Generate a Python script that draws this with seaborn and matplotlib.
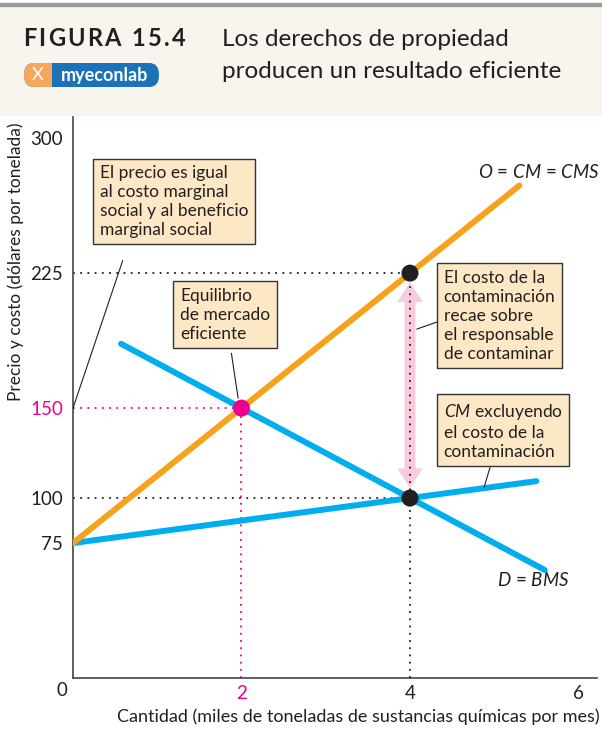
import matplotlib.pyplot as plt
import matplotlib.patches as mpatches
import numpy as np
import pandas as pd
import seaborn as sns

# Data (miles de toneladas, dolares por tonelada)
supply_q = [0, 2, 4, 5.3]
supply_p = [75, 150, 225, 273.75]
demand_q = [0.57, 2, 4, 5.6]
demand_p = [185.75, 150, 100, 60]
cm_excl_q = [0, 4, 5.5]
cm_excl_p = [75, 100, 109.4]

eq_q = 2
eq_p = 150
market_q = 4
market_cms = 225
market_cm = 100

y_ticks = [75, 100, 150, 225, 300]
x_ticks = [2, 4, 6]

ORANGE = "#f7a21b"
BLUE = "#00aeef"
PINK = "#ec008c"
ARROW_PINK = "#f8cade"
BOX = "#fde8c6"
TEXT = "#231f20"
FONT = "Lato"

sns.set_theme(style="white")
plt.rcParams["font.family"] = [FONT, "DejaVu Sans"]
plt.rcParams["mathtext.fontset"] = "custom"
plt.rcParams["mathtext.it"] = FONT + ":italic"
plt.rcParams["mathtext.rm"] = FONT
plt.rcParams["text.color"] = TEXT

fig = plt.figure(figsize=(6.02, 7.31), dpi=100)
fig.patch.set_facecolor("white")
renderer = fig.canvas.get_renderer()


def fx(px):
    return px / 602


def fy(py):
    return 1 - py / 731


# header band
fig.patches.append(mpatches.Rectangle((0, fy(115)), 1, (115 - 7) / 731,
                                      transform=fig.transFigure, color="#f7f5ee", zorder=0))
fig.patches.append(mpatches.Rectangle((0, fy(6)), 1, 3 / 731,
                                      transform=fig.transFigure, color="#9a9a9a", zorder=1))

# spaced caption "FIGURA 15.4"
x = 23
for ch in "FIGURA  15.4":
    if ch == " ":
        x += 4.5
        continue
    t = fig.text(fx(x), fy(39), ch, fontsize=17, fontweight="bold", va="center",
                 ha="left", color=TEXT)
    x += t.get_window_extent(renderer).width + 2.2

fig.text(fx(222), fy(40), "Los derechos de propiedad", fontsize=17.5,
         va="center", ha="left", color=TEXT)
fig.text(fx(222), fy(72), "producen un resultado eficiente", fontsize=17.5,
         va="center", ha="left", color=TEXT)

# myeconlab badge
h = (87 - 63) / 731
fig.patches.append(mpatches.FancyBboxPatch((fx(24), fy(87)), fx(159) - fx(24), h,
                   boxstyle="round,pad=0,rounding_size=0.016", transform=fig.transFigure,
                   fc="#1b72b9", ec="none", zorder=2))
fig.patches.append(mpatches.FancyBboxPatch((fx(24), fy(87)), fx(70) - fx(24), h,
                   boxstyle="round,pad=0,rounding_size=0.016", transform=fig.transFigure,
                   fc="#f6a75e", ec="none", zorder=3))
fig.patches.append(mpatches.Rectangle((fx(52), fy(87)), fx(75) - fx(52), h,
                   transform=fig.transFigure, fc="#1b72b9", ec="none", zorder=4))
fig.text(fx(38), fy(75), "X", color="white", fontsize=13, ha="center", va="center", zorder=5)
fig.text(fx(105), fy(75), "myeconlab", color="white", fontsize=13, fontweight="bold",
         ha="center", va="center", zorder=5)

ax = fig.add_axes([73 / 602, 1 - 678 / 731, 524 / 602, 565 / 731])
ax.set_xlim(0, 6.22)
ax.set_ylim(0, 314)

# guide lines
dots = (0, (1, 3))
ax.plot([0, market_q], [market_cms, market_cms], color=TEXT, ls=dots, lw=1.3, zorder=1)
ax.plot([0, market_q], [market_cm, market_cm], color=TEXT, ls=dots, lw=1.3, zorder=1)
ax.plot([0, eq_q], [eq_p, eq_p], color=PINK, ls=dots, lw=1.3, zorder=1)
ax.plot([eq_q, eq_q], [0, eq_p], color=PINK, ls=dots, lw=1.3, zorder=1)

# pink double arrow (cost of pollution)
mid = (market_cms + market_cm) / 2
for end in (market_cms - 5, market_cm + 5.5):
    ax.add_patch(mpatches.FancyArrow(market_q, mid, 0, end - mid, width=0.13,
                                     head_width=0.30, head_length=11,
                                     length_includes_head=True, color=ARROW_PINK,
                                     lw=0, zorder=2))
ax.plot([market_q, market_q], [0, market_cms], color=TEXT, ls=dots, lw=1.3, zorder=3)

# curves
df_s = pd.DataFrame({"q": supply_q, "p": supply_p})
df_d = pd.DataFrame({"q": demand_q, "p": demand_p})
df_c = pd.DataFrame({"q": cm_excl_q, "p": cm_excl_p})
sns.lineplot(data=df_c, x="q", y="p", ax=ax, color=BLUE, lw=4.3, sort=False, zorder=4)
sns.lineplot(data=df_d, x="q", y="p", ax=ax, color=BLUE, lw=4.3, sort=False, zorder=4)
sns.lineplot(data=df_s, x="q", y="p", ax=ax, color=ORANGE, lw=4.3, sort=False, zorder=5)

pts = pd.DataFrame({"q": [eq_q, market_q, market_q], "p": [eq_p, market_cms, market_cm],
                    "kind": ["eq", "m", "m"]})
sns.scatterplot(data=pts, x="q", y="p", hue="kind", palette={"eq": PINK, "m": "#231f20"},
                s=150, edgecolor="none", legend=False, ax=ax, zorder=6)

# annotation boxes
box = dict(boxstyle="square,pad=0.38", fc=BOX, ec="#333333", lw=1)
fs = 12.5
ls = 1.22
ax.text(0.32, 285, "El precio es igual\nal costo marginal\nsocial y al beneficio\nmarginal social",
        fontsize=fs, ha="left", va="top", bbox=box, linespacing=ls, zorder=7)
ax.plot([0.59, 0], [232, 150], color=TEXT, lw=0.8, zorder=6)

ax.text(1.27, 216.7, "Equilibrio\nde mercado\neficiente",
        fontsize=fs, ha="left", va="top", bbox=box, linespacing=ls, zorder=7)
ax.plot([1.88, 1.96], [180.5, 155.5], color=TEXT, lw=0.8, zorder=6)

ax.text(4.40, 226.7, "El costo de la\ncontaminación\nrecae sobre\nel responsable\nde contaminar",
        fontsize=fs, ha="left", va="top", bbox=box, linespacing=ls, zorder=7)
ax.plot([4.32, 4.08], [197.8, 193.9], color=TEXT, lw=0.8, zorder=6)

ax.text(4.40, 153.3, "$\\it{CM}$ excluyendo\nel costo de la\ncontaminación",
        fontsize=fs, ha="left", va="top", bbox=box, linespacing=ls, zorder=7)
ax.plot([4.95, 4.88], [117, 106], color=TEXT, lw=0.8, zorder=6)

ax.text(6.25, 281, "$\\it{O}$ = $\\it{CM}$ = $\\it{CMS}$", fontsize=13.5, ha="right",
        va="center", clip_on=False)
ax.text(5.03, 54.4, "$\\it{D}$ = $\\it{BMS}$", fontsize=13.5, ha="left", va="center")

# axes
for side in ["top", "right"]:
    ax.spines[side].set_visible(False)
for side in ["left", "bottom"]:
    ax.spines[side].set_color("#444444")
    ax.spines[side].set_linewidth(1.2)

ax.set_yticks(y_ticks)
ax.set_yticklabels([str(v) for v in y_ticks], fontsize=13.5, color=TEXT)
ax.set_xticks(x_ticks)
ax.set_xticklabels([str(v) for v in x_ticks], fontsize=13.5, color=TEXT)
ax.tick_params(axis="both", direction="in", length=8, width=1.1, color="#444444", pad=5)
ax.tick_params(axis="y", pad=7)
for t, v in zip(ax.yaxis.get_major_ticks(), y_ticks):
    if v != 300:
        t.tick1line.set_markersize(0)
for t, v in zip(ax.xaxis.get_major_ticks(), x_ticks):
    if v != 6:
        t.tick1line.set_markersize(0)
ax.get_yticklabels()[y_ticks.index(150)].set_color(PINK)
ax.get_xticklabels()[x_ticks.index(2)].set_color(PINK)
fig.text(fx(62), fy(690), "0", fontsize=13.5, ha="center", va="center")

ax.set_xlabel("")
ax.set_ylabel("")
fig.text(fx(600), fy(717), "Cantidad (miles de toneladas de sustancias químicas por mes)",
         fontsize=13, ha="right", va="center")
fig.text(fx(16), fy(262), "Precio y costo (dólares por tonelada)", fontsize=12.5,
         rotation=90, ha="center", va="center")

fig.savefig("out.png", dpi=100)
